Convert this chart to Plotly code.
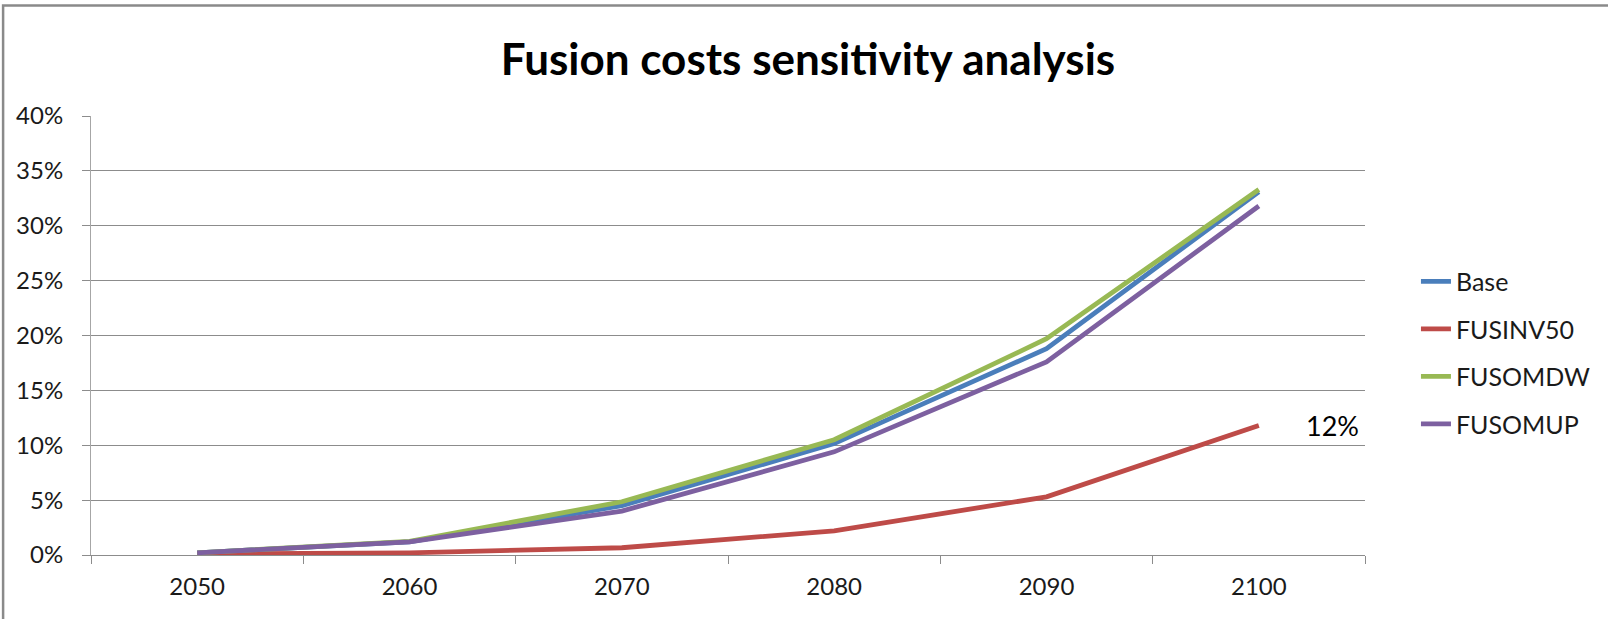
import plotly.graph_objects as go

# Scenario results: share by year for each fusion-cost sensitivity run
years = ["2050", "2060", "2070", "2080", "2090", "2100"]
base = [0.002, 0.012, 0.045, 0.1015, 0.188, 0.331]
fusinv50 = [0.001, 0.002, 0.0066, 0.022, 0.053, 0.118]
fusomdw = [0.002, 0.0125, 0.0485, 0.105, 0.197, 0.333]
fusomup = [0.002, 0.012, 0.040, 0.094, 0.176, 0.318]

y_ticks = [0, 0.05, 0.10, 0.15, 0.20, 0.25, 0.30, 0.35, 0.40]

series = [
    ("Base", base, "#4A7EBB"),
    ("FUSINV50", fusinv50, "#BE4B48"),
    ("FUSOMDW", fusomdw, "#98B954"),
    ("FUSOMUP", fusomup, "#7D60A0"),
]

FONT = "Lato"
TEXT = "#1a1a1a"
GRID = "#8c8c8c"

fig = go.Figure()
for name, vals, color in series:
    fig.add_trace(go.Scatter(
        x=years, y=vals, name=name, mode="lines",
        line=dict(color=color, width=4.8),
        legendgroup=name,
    ))

# value label at the end of the FUSINV50 line (x given as category index)
fig.add_annotation(
    x=len(years) - 1, y=fusinv50[-1], text=f"{fusinv50[-1]:.0%}",
    showarrow=False, xanchor="left", yanchor="middle", xshift=45,
    font=dict(family=FONT, size=27, color="#000000"),
)

# chart frame
fig.add_shape(
    type="rect", xref="paper", yref="paper",
    x0=-0.069, x1=1.3, y0=-0.3, y1=1.2517,
    line=dict(color="#8a8a8a", width=2.5), fillcolor="rgba(0,0,0,0)",
    layer="below",
)

fig.update_layout(
    width=1608, height=619, autosize=False,
    margin=dict(l=91, r=241, t=116, b=64),
    paper_bgcolor="white", plot_bgcolor="white",
    title=dict(
        text="<b>Fusion costs sensitivity analysis</b>",
        x=0.5025, xanchor="center", xref="container",
        y=1 - 60 / 619, yanchor="middle", yref="container",
        font=dict(family=FONT, size=44, color="#000000"),
    ),
    legend=dict(
        x=1.04, xanchor="left", y=0.675, yanchor="top",
        font=dict(family=FONT, size=25, color=TEXT),
        tracegroupgap=12, bgcolor="rgba(0,0,0,0)",
    ),
    showlegend=True,
)

fig.update_xaxes(
    type="category", categoryorder="array", categoryarray=years,
    range=[-0.5, len(years) - 0.5],
    showgrid=False, showline=True, linecolor=GRID, linewidth=1,
    ticks="outside", tickson="boundaries", ticklen=8, tickcolor=GRID,
    tickfont=dict(family=FONT, size=24, color=TEXT),
    ticklabelstandoff=10, zeroline=False,
)
fig.update_yaxes(
    range=[0, 0.4], tickvals=y_ticks, tickformat=".0%",
    showgrid=True, gridcolor=GRID, gridwidth=1,
    showline=True, linecolor="#a6a6a6", linewidth=1,
    ticks="outside", ticklen=8, tickcolor=GRID,
    tickfont=dict(family=FONT, size=24, color=TEXT),
    ticklabelstandoff=14, zeroline=False,
)

fig.write_html("out.html")
